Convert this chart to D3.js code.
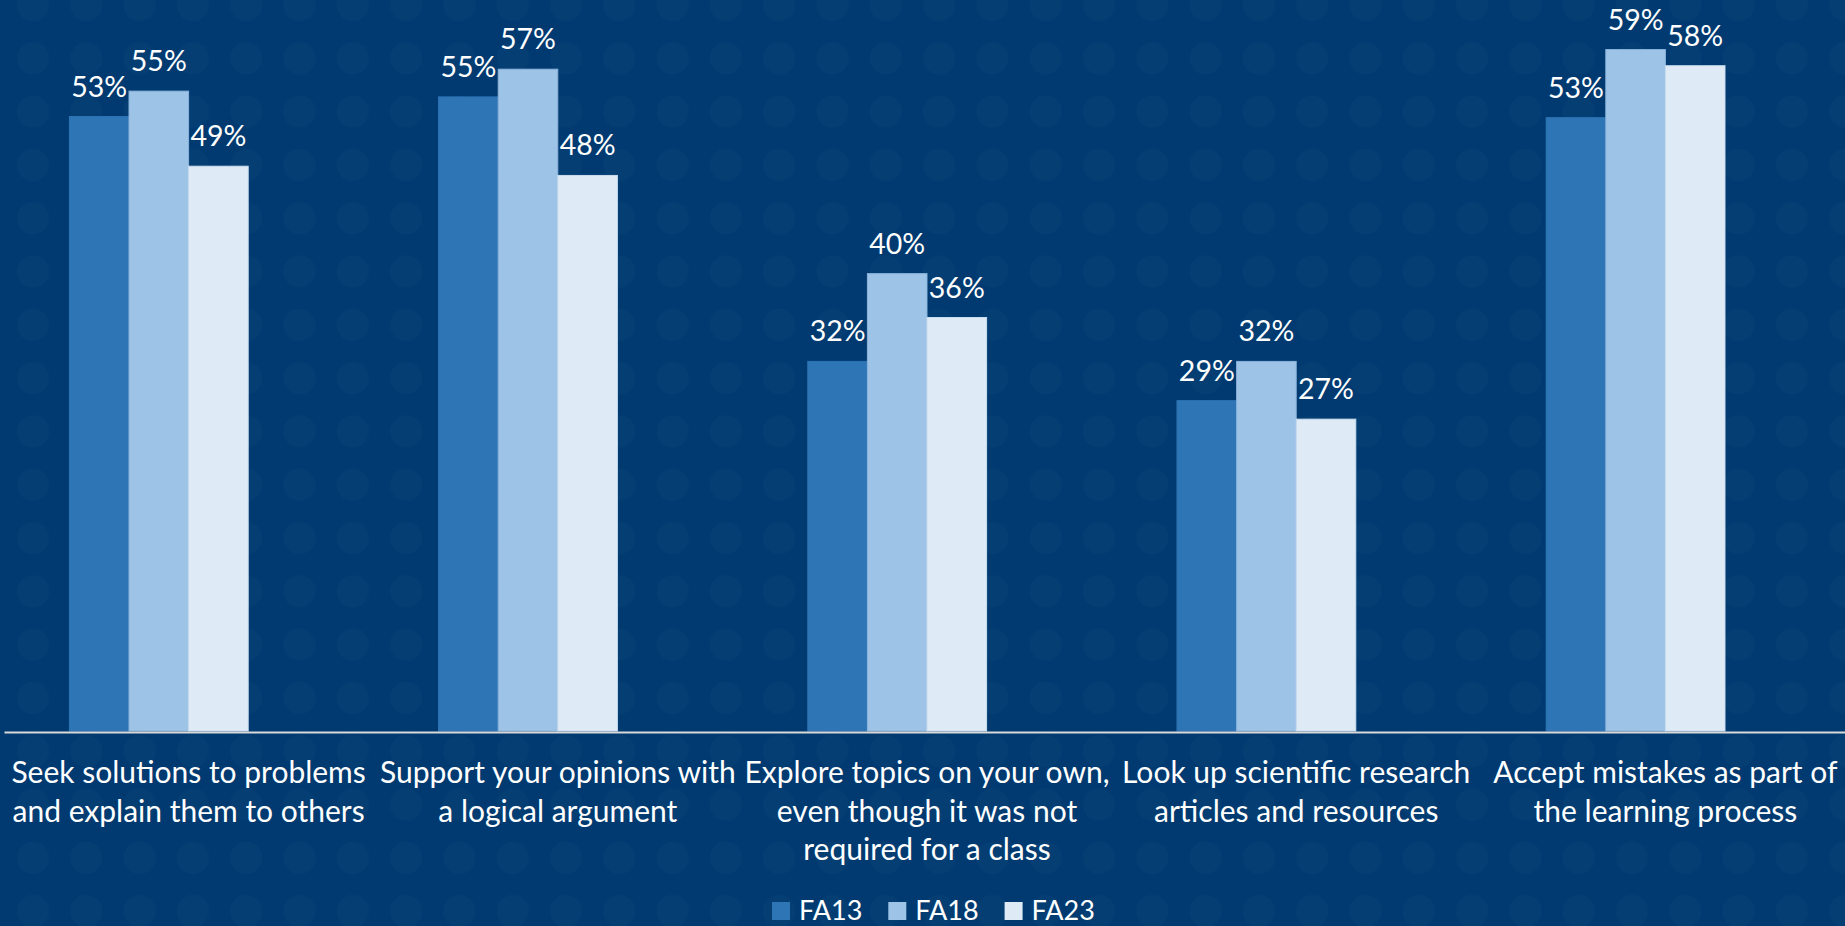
<!DOCTYPE html>
<html>
<head>
<meta charset="utf-8">
<script src="https://cdn.jsdelivr.net/npm/d3@7/dist/d3.min.js"></script>
<style>
  html, body { margin: 0; padding: 0; background: #003A70; overflow: hidden; }
  svg { display: block; }
  text { font-family: Lato, "Open Sans", sans-serif; fill: #FFFFFF; }
</style>
</head>
<body>
<svg id="chart" width="1845" height="926"></svg>
<script>
// ---- data ----
const categories = [
  "Seek solutions to problems and explain them to others",
  "Support your opinions with a logical argument",
  "Explore topics on your own, even though it was not required for a class",
  "Look up scientific research articles and resources",
  "Accept mistakes as part of the learning process"
];
const tickLabels = [
  ["Seek solutions to problems", "and explain them to others"],
  ["Support your opinions with", "a logical argument"],
  ["Explore topics on your own,", "even though it was not", "required for a class"],
  ["Look up scientific research", "articles and resources"],
  ["Accept mistakes as part of", "the learning process"]
];
const seriesNames = ["FA13", "FA18", "FA23"];
const fa13 = [53.2, 54.9, 32.0, 28.6, 53.1];
const fa18 = [55.4, 57.3, 39.6, 32.0, 59.0];
const fa23 = [48.9, 48.1, 35.8, 27.0, 57.6];
const seriesValues = [fa13, fa18, fa23];
const seriesColors = ["#2E75B6", "#9DC3E6", "#DEEBF7"];
const seriesStrokes = ["#2E75B6", "#8AB3DC", "#C9DDF0"];

// ---- layout ----
const W = 1845, H = 926;
const svg = d3.select("#chart");

// subtle background dot pattern (decoration)
const defs = svg.append("defs");
const cell = 53.3;
const pat = defs.append("pattern")
  .attr("id", "dots").attr("patternUnits", "userSpaceOnUse")
  .attr("width", cell).attr("height", cell)
  .attr("x", 33 - cell / 2).attr("y", 5 - cell / 2);
pat.append("circle").attr("cx", cell / 2).attr("cy", cell / 2).attr("r", 16)
  .attr("fill", "#FFFFFF").attr("fill-opacity", 0.018);
svg.append("rect").attr("width", W).attr("height", H).attr("fill", "#003A70");
svg.append("rect").attr("width", W).attr("height", H).attr("fill", "url(#dots)");

const baseY = 731;
const x0 = d3.scaleBand().domain(categories).range([4, 1850]).paddingInner(0).paddingOuter(0);
// four slots per category (Excel gap width 219%), three used
const x1 = d3.scaleBand().domain([0, 1, 2, 3]).range([0, x0.bandwidth()])
  .paddingInner(0).paddingOuter(1.0975);
const y = d3.scaleLinear().domain([0, 60]).range([baseY, baseY - 60 * 11.55]);

const fmt = v => d3.format(".0f")(v) + "%";

const groups = svg.append("g").selectAll("g")
  .data(categories).join("g")
  .attr("transform", d => `translate(${x0(d)},0)`);

seriesNames.forEach((s, si) => {
  groups.append("rect")
    .attr("x", (d, ci) => x1(si))
    .attr("y", (d, ci) => y(seriesValues[si][ci]))
    .attr("width", x1.bandwidth())
    .attr("height", (d, ci) => y(0) - y(seriesValues[si][ci]))
    .attr("fill", seriesColors[si])
    .attr("stroke", seriesStrokes[si])
    .attr("stroke-width", 1);
  groups.append("text")
    .attr("x", (d, ci) => x1(si) + x1.bandwidth() / 2)
    .attr("y", (d, ci) => y(seriesValues[si][ci]) - 20)
    .attr("text-anchor", "middle")
    .attr("font-size", 28.5)
    .text((d, ci) => fmt(seriesValues[si][ci]));
});

// x axis
const axis = svg.append("g")
  .attr("transform", `translate(0,${baseY + 1})`)
  .call(d3.axisBottom(x0).tickSize(0).tickSizeOuter(0).tickFormat(""));
axis.select(".domain").attr("stroke", "#D9D9D9").attr("stroke-width", 2);
axis.selectAll(".tick text").remove();
axis.selectAll(".tick").each(function (d, i) {
  const t = d3.select(this).append("text")
    .attr("text-anchor", "middle")
    .attr("font-size", 30)
    .attr("fill", "#FFFFFF");
  tickLabels[i].forEach((line, li) => {
    t.append("tspan").attr("x", 0).attr("y", 51.3 + li * 38.3).text(line);
  });
});

// legend
const legend = svg.append("g").attr("transform", "translate(772,902)");
const items = legend.selectAll("g").data(seriesNames).join("g")
  .attr("transform", (d, i) => `translate(${i * 116.3},0)`);
items.append("rect").attr("width", 18).attr("height", 18)
  .attr("fill", (d, i) => seriesColors[i]);
items.append("text").attr("x", 27).attr("y", 17.5)
  .attr("font-size", 27).text(d => d);
</script>
</body>
</html>
